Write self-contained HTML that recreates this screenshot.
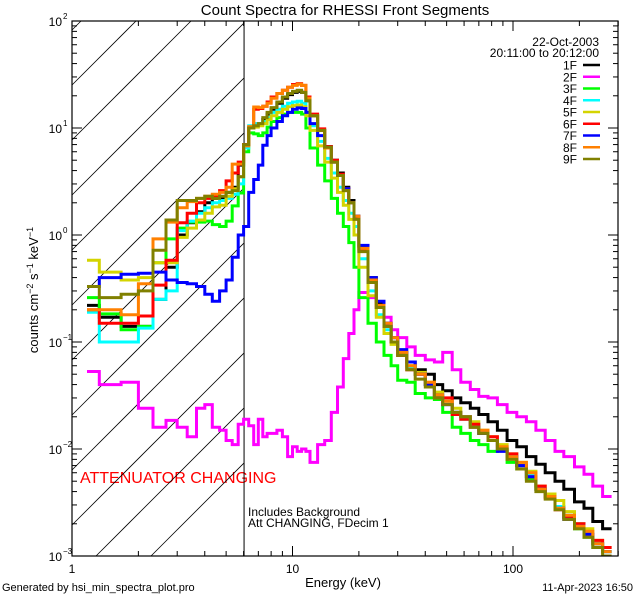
<!DOCTYPE html>
<html><head><meta charset="utf-8"><style>
html,body{margin:0;padding:0;background:#fff;width:640px;height:600px;overflow:hidden;}
svg{display:block;font-family:"Liberation Sans",sans-serif;}
</style></head>
<body>
<svg id="chart" width="640" height="600" viewBox="0 0 640 600" xmlns="http://www.w3.org/2000/svg">
<rect x="0" y="0" width="640" height="600" fill="#fff"/>
<text x="345" y="15" font-size="15" text-anchor="middle">Count Spectra for RHESSI Front Segments</text>
<text x="343" y="587" font-size="13" text-anchor="middle">Energy (keV)</text>
<text transform="translate(38,290) rotate(-90)" font-size="13" text-anchor="middle">counts cm<tspan dy="-5" font-size="9">−2</tspan><tspan dy="5"> s</tspan><tspan dy="-5" font-size="9">−1</tspan><tspan dy="5"> keV</tspan><tspan dy="-5" font-size="9">−1</tspan></text>
<text x="2" y="591" font-size="11">Generated by hsi_min_spectra_plot.pro</text>
<text x="633" y="591" font-size="11" text-anchor="end">11-Apr-2023 16:50</text>
<text x="80" y="483" font-size="16" fill="#ff0000">ATTENUATOR CHANGING</text>
<text x="248" y="516" font-size="12">Includes Background</text>
<text x="248" y="527" font-size="12">Att CHANGING, FDecim  1</text>
<text x="599" y="46" font-size="12" text-anchor="end">22-Oct-2003</text>
<text x="599" y="57" font-size="12" text-anchor="end">20:11:00 to 20:12:00</text>
<g id="layer"></g>
</svg>
<script>
// bin edges (keV)
var energyEdges = [1.17,1.33,1.67,2,2.33,2.67,3,3.33,3.67,4,4.33,4.67,5,5.33,5.67,6,
 6.33,6.67,7,7.33,7.67,8,8.5,9,9.5,10,10.5,11,11.5,12,13,14,15,16,17,18,19,20,
 22,24,26,28,30,33,36,40,44,48,53,58,64,70,77,85,94,104,115,127,140,155,170,190,210,230,255,280,300];
var segmentNames = ["1F","2F","3F","4F","5F","6F","7F","8F","9F"];
var series1F = [0.22,0.17,0.14,0.14,0.25,0.5,1.0,1.3,1.65,2.0,2.2,2.2,2.5,2.8,4.5,
 7,10,10.5,11,12,13.5, 15,17,19,20.5,21.5,22,21.5, 18,13,9.5,6.7,5,3.8,2.8,2.1, 1.5,0.78,0.4,0.23,0.15,
 0.11,0.08,0.065,0.055,0.05,0.04,0.035,0.03,0.027,0.024,0.021,0.018,0.015,0.012,0.0105,0.0085,0.0072,0.006,0.005,0.0042,0.0032,0.0028,0.0021,0.0018];
var series2F = [0.053,0.04,0.042,0.024,0.016,0.0185,0.016,0.013,0.024,0.026,0.016,0.015,0.012,0.011,0.017,
 0.019,0.0165,0.011,0.019,0.013,0.014, 0.014,0.015,0.013,0.0085,0.0105,0.0095,0.01, 0.0095,0.0075,0.011,0.012,0.022,0.038,0.07,0.12,
 0.2,0.29,0.26,0.22,0.17,
 0.13,0.11,0.09,0.075,0.068,0.065,0.08,0.055,0.042,0.036,0.031,0.03,0.026,0.022,0.02,0.018,0.015,0.012,0.0095,0.0085,0.0068,0.0058,0.0045,0.0036];
var series3F = [0.26,0.183,0.13,0.14,0.55,0.92,1.16,1.32,1.32,1.35,1.25,1.2,1.35,1.87,2.47,
 6.0,9,8.8,8.5,9,10.2, 11.5,12.5,13.5,14,14,14,13.5, 10,6.5,4.5,3.2,2.2,1.6,1.2,0.85, 0.5,0.26,0.15,0.1,0.075,
 0.06,0.044,0.042,0.033,0.03,0.029,0.022,0.016,0.014,0.012,0.011,0.0095,0.0098,0.0075,0.0065,0.0052,0.0042,0.0036,0.0029,0.0023,0.0018,0.0015,0.0013,0.0011];
var series4F = [0.19,0.1,0.1,0.135,0.25,0.3,1.1,1.35,1.6,1.8,2.0,2.1,2.2,2.4,3.0,
 6.5,10.5,11,11,11.5,12.5, 14,15,16,17,17.5,17.8,17, 14,10.5,7.5,5.2,3.8,2.8,2.1,1.6, 1.2,0.6,0.3,0.18,0.13,
 0.1,0.075,0.058,0.05,0.04,0.031,0.028,0.022,0.019,0.017,0.014,0.012,0.0105,0.0085,0.007,0.0058,0.0042,0.0036,0.0029,0.0024,0.002,0.0016,0.0012,0.0011];
var series5F = [0.58,0.45,0.38,0.4,0.55,0.55,0.95,1.16,1.38,1.6,1.83,1.9,2.3,2.7,3.5,
 7,10,10.2,10.5,11,12, 13,14,15,15.8,16.2,16.4,15.8, 13,9.5,6.8,4.8,3.4,2.5,1.9,1.4, 1.0,0.5,0.27,0.17,0.12,
 0.095,0.075,0.06,0.052,0.042,0.034,0.028,0.024,0.02,0.018,0.015,0.013,0.011,0.009,0.0075,0.0062,0.0045,0.0038,0.0033,0.0026,0.002,0.0018,0.0014,0.0012];
var series6F = [0.2,0.15,0.15,0.175,0.34,0.58,1.3,1.6,2.0,2.2,2.3,2.6,3.2,3.8,4.8,
 7,10,15,15.2,16,17.5, 19.5,21,22.5,24,25.5,26,25, 19.5,13.5,9.8,6.7,5,3.7,2.7,2.0, 1.45,0.72,0.36,0.21,0.14,
 0.1,0.075,0.055,0.05,0.04,0.03,0.03,0.021,0.019,0.017,0.014,0.013,0.01,0.009,0.007,0.0055,0.0045,0.0035,0.0027,0.0023,0.002,0.0016,0.0014,0.0012];
var series7F = [0.33,0.4,0.43,0.44,0.45,0.38,0.36,0.35,0.33,0.28,0.24,0.3,0.38,0.62,1.0,
 1.2,2.5,3.3,4.5,6.9,8.5, 10,11.5,13,14,15,15.4,15.2, 14,11,8.5,6.5,4.8,3.6,2.7,2.0, 1.5,0.8,0.4,0.24,0.15,
 0.11,0.085,0.065,0.05,0.04,0.032,0.026,0.022,0.02,0.016,0.014,0.012,0.0095,0.0085,0.007,0.0055,0.0042,0.0036,0.0028,0.0022,0.0019,0.0016,0.0013,0.0011];
var series8F = [0.2,0.2,0.18,0.35,0.92,1.32,1.8,2.05,2.2,2.3,2.4,2.5,2.8,4.6,4.6,
 6.8,10.3,15.7,15.5,16,17, 19,21,22.5,24,25,25.7,25, 19,13,9.5,6.5,4.8,3.6,2.6,2.0, 1.5,0.75,0.38,0.22,0.15,
 0.11,0.08,0.06,0.05,0.042,0.032,0.028,0.022,0.02,0.016,0.015,0.012,0.0105,0.0085,0.0075,0.006,0.0042,0.0036,0.0028,0.0024,0.0019,0.0017,0.0013,0.0011];
var series9F = [0.33,0.26,0.28,0.3,0.72,1.38,2.1,2.1,2.2,2.3,2.2,2.3,2.5,2.6,3.5,
 7,10,10.5,11,12.5,14, 15.5,17.5,19.5,21,22,22.5,21.5, 18,13,9.5,6.6,4.8,3.6,2.6,2.0, 1.4,0.7,0.36,0.21,0.14,
 0.1,0.075,0.055,0.045,0.038,0.03,0.026,0.022,0.02,0.016,0.014,0.012,0.01,0.008,0.0065,0.005,0.004,0.0034,0.0027,0.0022,0.0018,0.0015,0.0012,0.001];
var yTickExponents = ["−3","−2","−1","0","1","2"];
var xTickLabels = ["1","10","100"];

var NS = "http://www.w3.org/2000/svg";
var L = 72, R = 618, T = 21, B = 556;
var xDec = 220.5, yDec = (B - T) / 5;
function xs(e){ return L + Math.log10(e) * xDec; }
function ys(v){ return B - (Math.log10(v) + 3) * yDec; }
function mk(tag, attrs, parent){
  var el = document.createElementNS(NS, tag);
  for (var k in attrs) el.setAttribute(k, attrs[k]);
  (parent || layer).appendChild(el);
  return el;
}
var layer = document.getElementById("layer");
var defs = mk("defs", {});
var cp = mk("clipPath", {id:"plotclip"}, defs);
mk("rect", {x:L, y:T, width:R-L, height:B-T}, cp);

// hatch (endpoints computed inside region)
var XV = xs(6.03);
var hg = mk("g", {});


for (var k = -6; k < 8; k++) {
  var y0 = 250 + 55 * k;
  var sx = L, sy = y0;
  if (sy > B) { sx = L + (sy - B); sy = B; }
  var ex2 = Math.min(XV, L + (y0 - T));
  var ey = y0 - (ex2 - L);
  if (ex2 <= sx) continue;
  mk("line", {x1:sx, y1:sy, x2:ex2, y2:ey, stroke:"#000", "stroke-width":0.8}, hg);
}
var vl = mk("line", {x1:XV, y1:T, x2:XV, y2:B, stroke:"#000", "stroke-width":1});



// series
var colors = ["#000000","#ff00ff","#00ff00","#00ffff","#d4d400","#ff0000","#0000ff","#ff8000","#808000"];
var allSeries = [series1F,series2F,series3F,series4F,series5F,series6F,series7F,series8F,series9F];
var sg = mk("g", {"clip-path":"url(#plotclip)"});
for (var s = 0; s < allSeries.length; s++) {
  var vals = allSeries[s], d = "";
  for (var i = 0; i < vals.length; i++) {
    var x1 = xs(energyEdges[i]), x2 = Math.min(xs(energyEdges[i+1]), R), y = Math.min(ys(vals[i]), B);
    d += (i === 0 ? "M" : "L") + x1.toFixed(1) + "," + y.toFixed(1) + "L" + x2.toFixed(1) + "," + y.toFixed(1);
  }
  var p = mk("path", {d:d, fill:"none", stroke:colors[s], "stroke-width":3, "stroke-linejoin":"miter"}, sg);
  
  
}

// frame
var fr = mk("rect", {x:L, y:T, width:R-L, height:B-T, fill:"none", stroke:"#000", "stroke-width":1.2});



// x ticks
for (var dcd = 0; dcd < 3; dcd++) {
  for (var m = 1; m <= 9; m++) {
    var e = m * Math.pow(10, dcd);
    var x = xs(e);
    if (x > R + 0.5) continue;
    var len = m === 1 ? 10 : 5;
    var t1 = mk("line", {x1:x, y1:B, x2:x, y2:B-len, stroke:"#000", "stroke-width":1});
    
    
    var t2 = mk("line", {x1:x, y1:T, x2:x, y2:T+len, stroke:"#000", "stroke-width":1});
    
    
  }
  var lab = mk("text", {x:xs(Math.pow(10, dcd)), y:B+17, "font-size":12, "text-anchor":"middle"});
  lab.textContent = xTickLabels[dcd];
  
  
}
// y ticks
for (var ex = 0; ex < yTickExponents.length; ex++) {
  var base = Math.pow(10, ex - 3);
  for (var m2 = 1; m2 <= 9; m2++) {
    if (ex === 5 && m2 > 1) break;
    var yy = ys(m2 * base);
    var ln = m2 === 1 ? 10 : 5;
    var a = mk("line", {x1:L, y1:yy, x2:L+ln, y2:yy, stroke:"#000", "stroke-width":1});
    
    
    var b = mk("line", {x1:R, y1:yy, x2:R-ln, y2:yy, stroke:"#000", "stroke-width":1});
    
    
  }
  var yl = mk("text", {x:62, y:ys(base)+5, "font-size":12, "text-anchor":"end"});
  
  
  yl.appendChild(document.createTextNode("10"));
  var sup = mk("tspan", {x:63, y:ys(base)-2, "font-size":8, "text-anchor":"start"}, yl);
  sup.textContent = yTickExponents[ex];
}
// legend
for (var j = 0; j < segmentNames.length; j++) {
  var ly = 65 + j * 11.75;
  var lg = mk("g", {});
  
  
  var lt = mk("text", {x:577, y:ly+4.5, "font-size":12, "text-anchor":"end"}, lg);
  lt.textContent = segmentNames[j];
  mk("line", {x1:583, y1:ly, x2:600, y2:ly, stroke:colors[j], "stroke-width":2.5}, lg);
}
</script>
</body></html>
